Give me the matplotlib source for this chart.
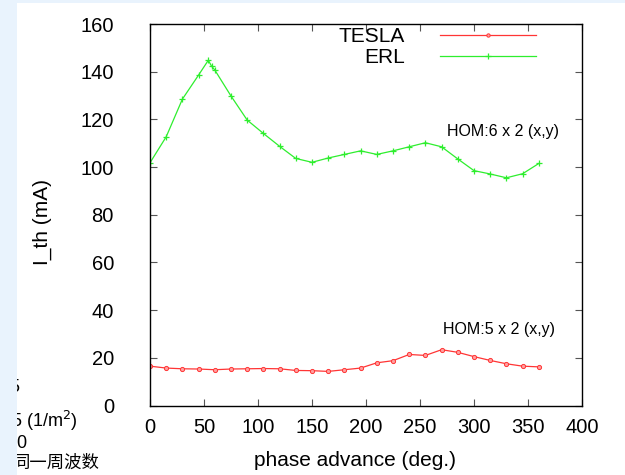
import matplotlib
matplotlib.use('Agg')
import matplotlib.pyplot as plt
from matplotlib.patches import Rectangle

plt.rcParams['font.family'] = ['Liberation Sans', 'Noto Sans CJK SC', 'DejaVu Sans']

# phase advance (deg.)
phase = [0, 15, 30, 45, 60, 75, 90, 105, 120, 135, 150, 165, 180,
         195, 210, 225, 240, 255, 270, 285, 300, 315, 330, 345, 360]
tesla = [16.5, 15.7, 15.4, 15.3, 15.0, 15.3, 15.4, 15.5, 15.4, 14.7, 14.6, 14.3, 15.0,
         15.7, 17.9, 18.8, 21.4, 21.0, 23.4, 22.3, 20.5, 18.9, 17.5, 16.5, 16.2]

phase_erl = [0, 15, 30, 45, 54, 57, 60, 75, 90, 105, 120, 135, 150, 165, 180,
             195, 210, 225, 240, 255, 270, 285, 300, 315, 330, 345, 360]
erl = [101.8, 112.7, 128.5, 138.6, 144.8, 142.3, 140.7, 129.8, 119.7, 114.1, 108.7,
       103.6, 102.0, 103.8, 105.3, 106.8, 105.3, 106.8, 108.5, 110.2, 108.5, 103.4,
       98.5, 97.1, 95.5, 97.2, 101.5]

xticks = [0, 50, 100, 150, 200, 250, 300, 350, 400]
yticks = [0, 20, 40, 60, 80, 100, 120, 140, 160]

W, H = 625, 475
fig = plt.figure(figsize=(W / 100, H / 100), dpi=100)
fig.patch.set_facecolor('white')

# slide background pieces
fig.patches.append(Rectangle((0, 0), 17 / W, 1, transform=fig.transFigure,
                             facecolor='#e9f3fd', edgecolor='none', zorder=10))
fig.patches.append(Rectangle((0, 1 - 3 / H), 1, 3 / H, transform=fig.transFigure,
                             facecolor='#e9f3fd', edgecolor='none', zorder=10))
fig.text(9 / W, 1 - 388 / H, '5', fontsize=13, va='center', ha='left', zorder=1)
fig.text(11 / W, 1 - 421 / H, '5 (1/m$^2$)', fontsize=13, va='center', ha='left', zorder=1)
fig.text(16 / W, 1 - 443 / H, '0', fontsize=13, va='center', ha='left', zorder=1)
fig.text(13 / W, 1 - 463 / H, '同一周波数', fontsize=12.5, va='center', ha='left', zorder=1)

ax = fig.add_axes([150 / W, 1 - 405.5 / H, 432 / W, 381.5 / H])
ax.plot(phase, tesla, color='#ff3535', lw=0.9, marker='o', ms=3,
        mfc='#ffa0a0', mec='#ff3535', mew=0.7, label='TESLA')
ax.plot(phase_erl, erl, color='#2eee2e', lw=0.9, marker='+', ms=5,
        mew=0.9, label='ERL')

ax.set_xlim(0, 400)
ax.set_ylim(0, 160)
ax.set_xticks(xticks)
ax.set_yticks(yticks)
ax.tick_params(direction='in', top=True, right=True, length=5, width=0.8,
               labelsize=14.5, color='#555555')
ax.tick_params(axis='y', pad=26)
ax.tick_params(axis='x', pad=9)
for s in ax.spines.values():
    s.set_linewidth(1.0)

fig.text(42 / W, 1 - 222 / H, 'I_th (mA)', rotation=90, fontsize=15,
         ha='center', va='center')
fig.text(355 / W, 1 - 460 / H, 'phase advance (deg.)', fontsize=15,
         ha='center', va='center')

ax.text(275, 115, 'HOM:6 x 2 (x,y)', fontsize=11.5, va='center', ha='left')
ax.text(271, 32, 'HOM:5 x 2 (x,y)', fontsize=11.5, va='center', ha='left')

leg = ax.legend(loc='upper right', bbox_to_anchor=(536 / W, 1 - 27 / H),
                bbox_transform=fig.transFigure, frameon=False, markerfirst=False,
                fontsize=15, handlelength=4.6, handletextpad=1.7, labelspacing=0.1,
                borderpad=0, borderaxespad=0, markerscale=0.8)
for t in leg.get_texts():
    t.set_ha('right')

fig.savefig('out.png', dpi=100)
